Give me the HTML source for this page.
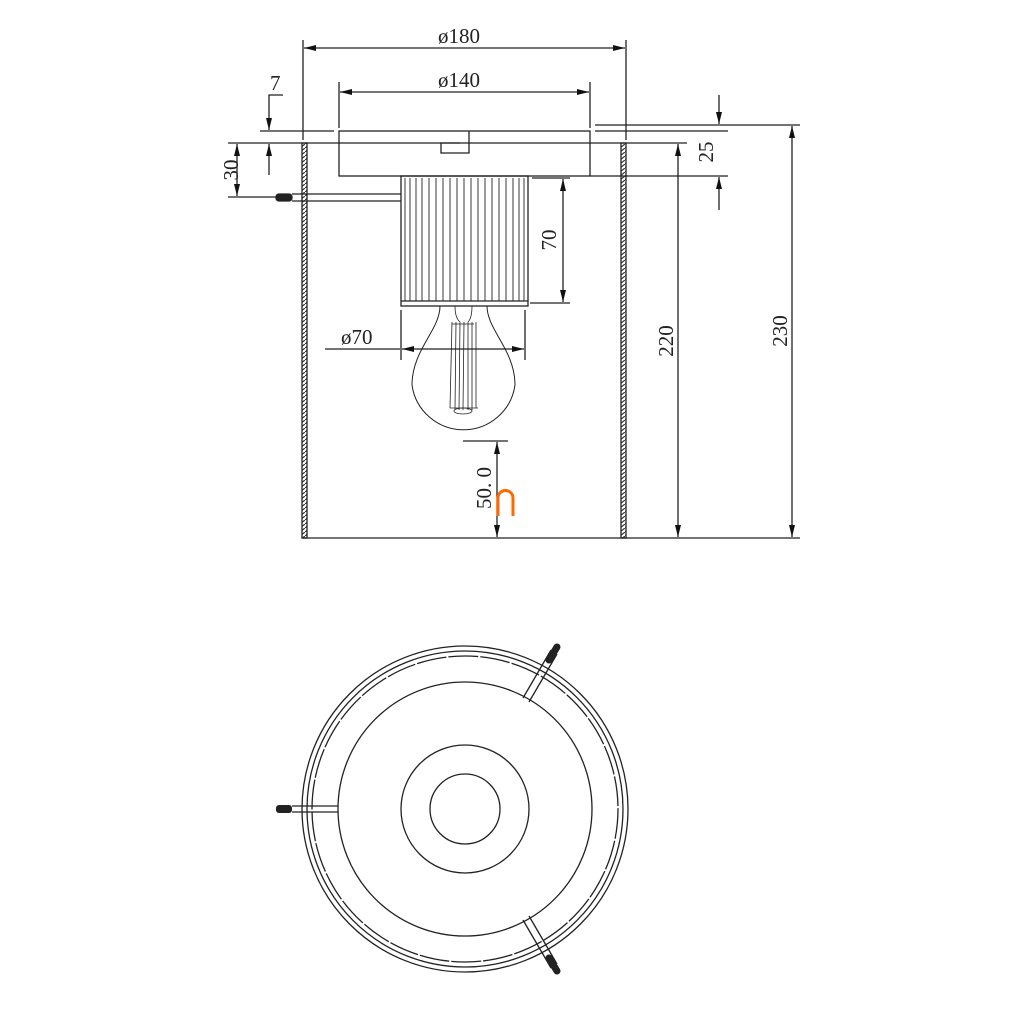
<!DOCTYPE html>
<html><head><style>
html,body{margin:0;padding:0;background:#fff;}
svg{display:block;}
text{font-family:"Liberation Serif",serif;font-size:21px;fill:#222;}
</style></head><body>
<svg width="1010" height="1010" viewBox="0 0 1010 1010" xmlns="http://www.w3.org/2000/svg">
<defs>
<marker id="a" viewBox="0 0 12 6" refX="12" refY="3" markerWidth="12" markerHeight="6" orient="auto-start-reverse" markerUnits="userSpaceOnUse"><path d="M0,0L12,3L0,6z" fill="#111"/></marker>
<pattern id="h" width="5" height="4" patternUnits="userSpaceOnUse"><rect width="5" height="4" fill="#fff"/><path d="M0,4L5,0" stroke="#333" stroke-width="1.2"/></pattern>
</defs>
<g stroke="#222" stroke-width="1.3" fill="none">
<rect x="302" y="143" width="5" height="395" fill="url(#h)"/>
<rect x="621" y="143" width="5" height="395" fill="url(#h)"/>
<line x1="302" y1="538" x2="800" y2="538"/>
<!-- canopy -->
<rect x="339" y="131" width="251" height="45"/>
<path d="M469,131V153H441V143H460"/>
<line x1="228" y1="143" x2="687" y2="143"/>
<!-- socket -->
<rect x="401" y="176" width="127" height="130"/>
<line x1="401" y1="301" x2="528" y2="301"/>
<g stroke-width="0.9">
<line x1="405" y1="178" x2="405" y2="301"/><line x1="410" y1="178" x2="410" y2="301"/><line x1="416" y1="178" x2="416" y2="301"/><line x1="422" y1="178" x2="422" y2="301"/><line x1="429" y1="178" x2="429" y2="301"/><line x1="436" y1="178" x2="436" y2="301"/><line x1="443" y1="178" x2="443" y2="301"/><line x1="450" y1="178" x2="450" y2="301"/><line x1="457" y1="178" x2="457" y2="301"/><line x1="464" y1="178" x2="464" y2="301"/><line x1="471" y1="178" x2="471" y2="301"/><line x1="478" y1="178" x2="478" y2="301"/><line x1="485" y1="178" x2="485" y2="301"/><line x1="492" y1="178" x2="492" y2="301"/><line x1="499" y1="178" x2="499" y2="301"/><line x1="506" y1="178" x2="506" y2="301"/><line x1="513" y1="178" x2="513" y2="301"/><line x1="519" y1="178" x2="519" y2="301"/><line x1="524" y1="178" x2="524" y2="301"/>
</g>
<path d="M292,194H401M292,201H401"/>
<rect x="276" y="194" width="16" height="7" rx="3" fill="#222"/>
<!-- bulb -->
<path d="M440,306C440,330 412,350 412,385A52,52 0 0 0 515,385C515,350 487,330 487,306" stroke-width="1"/>
<g stroke-width="0.8">
<path d="M452,322L450,408M456,322L455,410M460,322L459,410M464,322L463,410M468,322L468,410M472,322L472,410M476,322L476,408"/>
<path d="M452,324L474,324M450,408L478,408"/>
<path d="M455,306Q455,318 460,322M472,306Q472,318 468,322"/>
<ellipse cx="463" cy="411" rx="9" ry="3"/>
</g>
<!-- dimensions -->
<line x1="303" y1="40" x2="303" y2="140"/><line x1="626" y1="40" x2="626" y2="140"/>
<line x1="304" y1="48" x2="625" y2="48" marker-start="url(#a)" marker-end="url(#a)"/>
<line x1="339" y1="82" x2="339" y2="128"/><line x1="590" y1="82" x2="590" y2="128"/>
<line x1="340" y1="92" x2="589" y2="92" marker-start="url(#a)" marker-end="url(#a)"/>
<line x1="260" y1="131" x2="334" y2="131"/>
<line x1="228" y1="197" x2="276" y2="197"/>
<path d="M283,95H269V130" marker-end="url(#a)"/>
<line x1="269" y1="175" x2="269" y2="144" marker-end="url(#a)"/>
<line x1="237" y1="144" x2="237" y2="196" marker-start="url(#a)" marker-end="url(#a)"/>
<line x1="595" y1="125" x2="800" y2="125"/>
<line x1="595" y1="131" x2="728" y2="131"/>
<line x1="590" y1="176" x2="728" y2="176"/>
<line x1="719" y1="95" x2="719" y2="124" marker-end="url(#a)"/>
<line x1="719" y1="210" x2="719" y2="177" marker-end="url(#a)"/>
<line x1="678" y1="144" x2="678" y2="537" marker-start="url(#a)" marker-end="url(#a)"/>
<line x1="792" y1="126" x2="792" y2="537" marker-start="url(#a)" marker-end="url(#a)"/>
<line x1="532" y1="178" x2="570" y2="178"/><line x1="530" y1="303" x2="570" y2="303"/>
<line x1="563" y1="179" x2="563" y2="302" marker-start="url(#a)" marker-end="url(#a)"/>
<line x1="401" y1="310" x2="401" y2="360"/><line x1="525" y1="310" x2="525" y2="360"/>
<line x1="325" y1="349" x2="400" y2="349"/>
<line x1="402" y1="349" x2="524" y2="349" marker-start="url(#a)" marker-end="url(#a)"/>
<line x1="463" y1="441" x2="508" y2="441"/>
<line x1="497" y1="442" x2="497" y2="537" marker-start="url(#a)" marker-end="url(#a)"/>
</g>
<path d="M498,516V498A7.5,7.5 0 0 1 513,498V516" stroke="#ff6a00" stroke-width="3" fill="none"/>
<text x="438" y="43">ø180</text>
<text x="438" y="87">ø140</text>
<text x="270" y="90">7</text>
<text x="341" y="344">ø70</text>
<text transform="translate(238,170) rotate(-90)" text-anchor="middle">30</text>
<text transform="translate(556,240) rotate(-90)" text-anchor="middle">70</text>
<text transform="translate(713,152) rotate(-90)" text-anchor="middle">25</text>
<text transform="translate(673,341) rotate(-90)" text-anchor="middle">220</text>
<text transform="translate(787,331) rotate(-90)" text-anchor="middle">230</text>
<text transform="translate(491,488) rotate(-90)" text-anchor="middle">50. 0</text>
<g stroke="#222" stroke-width="1.3" fill="none">
<circle cx="465" cy="809" r="163"/>
<circle cx="465" cy="809" r="158"/>
<circle cx="465" cy="809" r="153" stroke-dasharray="30 2"/>
<circle cx="465" cy="809" r="127"/>
<circle cx="465" cy="809" r="64"/>
<circle cx="465" cy="809" r="35"/>
<path d="M292,806H338M292,812H338"/>
<path d="M523,698L551,650M529,702L557,654"/>
<path d="M523,920L551,968M529,916L557,964"/>
</g>
<rect x="276" y="805" width="16" height="8" rx="3" fill="#222"/>
<line x1="549" y1="660" x2="557" y2="647" stroke="#222" stroke-width="7" stroke-linecap="round"/>
<line x1="549" y1="958" x2="557" y2="971" stroke="#222" stroke-width="7" stroke-linecap="round"/>
</svg>
</body></html>
